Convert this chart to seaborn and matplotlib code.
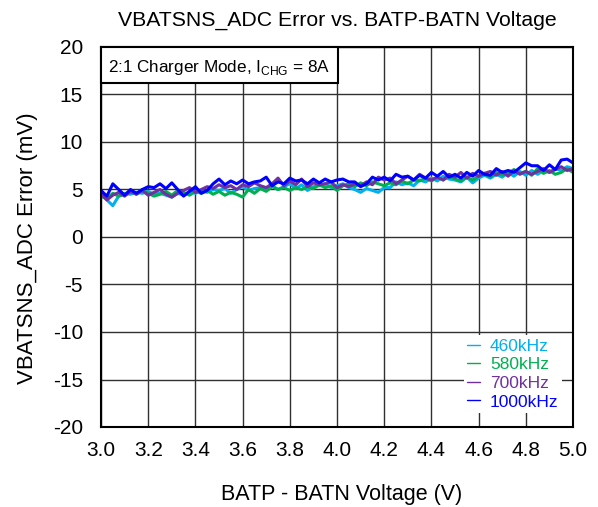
import numpy as np
import pandas as pd
import matplotlib
matplotlib.use("Agg")
import matplotlib.pyplot as plt
from matplotlib.patches import Rectangle
import seaborn as sns

voltage = [3.0 + 0.025 * i for i in range(81)]

err_460 = [4.5, 3.9, 3.3, 4.3, 4.6, 4.5, 4.7, 4.6, 4.8, 4.5, 4.6, 4.4, 4.2, 4.6, 4.4, 4.8,
           4.6, 4.9, 4.7, 5.0, 4.9, 5.1, 4.6, 5.0, 5.3, 4.9, 5.1, 5.2, 4.9, 5.4, 5.0, 5.3,
           5.6, 5.1, 5.5, 4.9, 5.3, 5.4, 5.6, 5.2, 5.4, 5.6, 5.2, 5.0, 4.7, 5.1, 4.9, 4.7,
           5.2, 5.2, 5.8, 5.5, 5.7, 5.4, 6.0, 5.8, 6.2, 5.9, 6.4, 6.1, 6.0, 5.8, 6.3, 5.7,
           6.2, 6.5, 6.2, 6.6, 6.3, 6.8, 6.4, 6.9, 6.5, 7.0, 6.6, 7.0, 6.8, 7.2, 7.0, 7.4, 7.2]
err_580 = [4.3, 4.0, 4.6, 4.3, 4.5, 4.8, 4.5, 5.0, 4.6, 4.3, 4.5, 4.8, 4.4, 4.9, 4.7, 4.4,
           4.8, 4.6, 4.9, 4.5, 4.8, 4.4, 4.7, 4.5, 4.2, 5.0, 4.6, 5.1, 4.8, 5.3, 5.0, 5.2,
           4.9, 5.2, 5.0, 5.3, 5.1, 5.5, 5.2, 5.4, 4.9, 5.4, 5.6, 5.3, 5.7, 5.4, 5.8, 5.6,
           5.4, 5.7, 5.5, 5.9, 5.6, 6.0, 5.9, 6.2, 5.9, 6.3, 6.0, 6.4, 6.1, 5.9, 6.3, 6.0,
           6.4, 6.7, 6.3, 6.8, 6.5, 6.7, 7.1, 6.7, 6.9, 6.5, 7.2, 6.7, 7.0, 6.6, 6.8, 7.2, 6.8]
err_700 = [4.6, 3.9, 4.4, 4.7, 4.3, 4.8, 4.5, 4.9, 4.4, 4.7, 5.0, 4.5, 4.2, 4.6, 4.9, 5.2,
           4.7, 5.0, 5.3, 5.1, 5.5, 5.2, 5.4, 5.0, 5.5, 5.3, 5.7, 5.4, 5.2, 5.6, 6.2, 5.4,
           5.9, 5.5, 6.1, 5.3, 5.7, 5.5, 5.6, 5.8, 5.2, 5.5, 5.3, 5.6, 5.4, 5.8, 5.5, 6.3,
           6.0, 6.2, 5.6, 6.0, 6.4, 6.0, 6.6, 6.2, 6.0, 6.3, 6.0, 6.6, 6.3, 6.8, 6.2, 6.7,
           6.4, 6.7, 6.9, 6.5, 6.9, 6.4, 7.0, 6.6, 6.9, 6.6, 6.9, 7.2, 6.8, 7.1, 7.4, 7.0, 7.2]
err_1000 = [4.9, 4.3, 5.6, 5.0, 4.4, 5.0, 4.6, 5.0, 5.3, 5.2, 5.6, 5.1, 5.7, 5.0, 4.3, 4.8,
            5.3, 4.6, 4.9, 5.6, 6.1, 5.5, 5.9, 5.6, 6.0, 5.6, 5.8, 5.9, 6.3, 5.4, 5.8, 5.6,
            6.2, 5.9, 6.0, 5.6, 6.1, 5.7, 6.1, 5.8, 6.0, 6.1, 5.8, 5.8, 5.3, 5.6, 6.3, 6.0,
            6.3, 5.9, 6.6, 6.3, 6.4, 6.0, 6.5, 6.2, 6.8, 6.4, 6.9, 6.3, 6.6, 6.2, 6.8, 6.4,
            7.0, 6.6, 6.5, 7.2, 6.8, 7.0, 6.8, 7.3, 7.8, 7.5, 7.5, 7.0, 7.6, 7.1, 8.1, 8.2, 7.8]

series_names = ["460kHz", "580kHz", "700kHz", "1000kHz"]
series_vals = [err_460, err_580, err_700, err_1000]
colors = ["#00B0F0", "#00B050", "#7030A0", "#0000FF"]

df = pd.concat([pd.DataFrame({"V": voltage, "err": v, "freq": n})
                for n, v in zip(series_names, series_vals)], ignore_index=True)

sns.set_style("white")
plt.rcParams['font.family'] = ['Liberation Sans', 'DejaVu Sans']
plt.rcParams['axes.unicode_minus'] = False
plt.rcParams['text.color'] = 'black'
plt.rcParams['axes.labelcolor'] = 'black'
plt.rcParams['xtick.color'] = 'black'
plt.rcParams['ytick.color'] = 'black'

fig = plt.figure(figsize=(5.98, 5.07), dpi=100)
ax = fig.add_axes([101 / 598, 1 - 427 / 507, 472 / 598, 380 / 507])

sns.lineplot(data=df, x="V", y="err", hue="freq", palette=dict(zip(series_names, colors)),
             hue_order=series_names, linewidth=2.2, ax=ax, legend=True, estimator=None)

ax.set_xlim(3.0, 5.0)
ax.set_ylim(-20, 20)
xt = np.arange(3.0, 5.001, 0.2)
ax.set_xticks(xt)
ax.set_xticklabels([f"{t:.1f}" for t in xt])
ax.set_yticks(np.arange(-20, 21, 5))
ax.grid(True, color="#303030", linewidth=1)
ax.tick_params(axis="both", labelsize=15, length=0)
ax.tick_params(axis="x", pad=10)
ax.tick_params(axis="y", pad=13)
for s in ax.spines.values():
    s.set_color("black")
    s.set_linewidth(1.5)

ax.set_xlabel("BATP - BATN Voltage (V)", fontsize=15.5)
ax.xaxis.set_label_coords((342 - 101) / 472, -(500 - 427) / 380)
ax.xaxis.label.set_va("baseline")
ax.set_ylabel("VBATSNS_ADC Error (mV)", fontsize=16)
ax.yaxis.set_label_coords(-(101 - 38) / 472, (427 - 248) / 380)
ax.set_title("VBATSNS_ADC Error vs. BATP-BATN Voltage", fontsize=15.3, pad=15)

ax.add_patch(Rectangle((0, (427 - 83) / 380), (338 - 101) / 472, 1 - (427 - 83) / 380,
                       transform=ax.transAxes, facecolor="white", edgecolor="black",
                       linewidth=1.5, zorder=5, clip_on=False))
ax.text((108 - 101) / 472, (427 - 72) / 380, "2:1 Charger Mode, I$_\\mathregular{CHG}$ = 8A",
        transform=ax.transAxes, fontsize=12.3, va="baseline", ha="left", zorder=6)

leg = ax.legend(loc="lower right", frameon=True, fontsize=12.5, handlelength=0.75,
                handletextpad=0.55, labelspacing=0.2, borderpad=0.2, borderaxespad=0,
                bbox_to_anchor=((562 - 101) / 472, (427 - 413) / 380))
leg.get_frame().set_facecolor("white")
leg.get_frame().set_edgecolor("none")
leg.get_frame().set_alpha(1)
for text, c in zip(leg.get_texts(), colors):
    text.set_color(c)
for h in leg.get_lines():
    h.set_linewidth(1)

fig.savefig("out.png", dpi=100)
